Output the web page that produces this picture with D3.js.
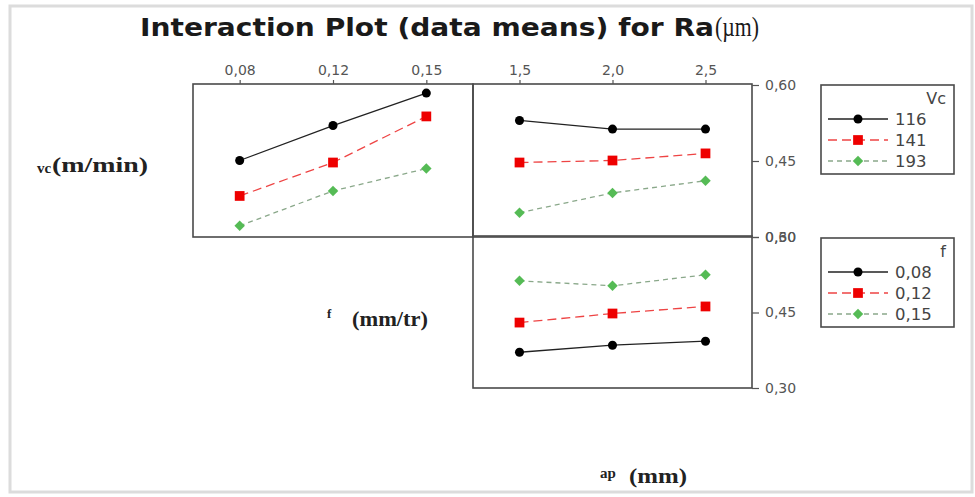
<!DOCTYPE html>
<html>
<head>
<meta charset="utf-8">
<script src="https://cdn.jsdelivr.net/npm/d3@7"></script>
<style>
  html, body { margin: 0; padding: 0; background: #fff; }
  svg { display: block; }
  .tick text { font-family: "DejaVu Sans", Verdana, sans-serif; font-size: 14px; fill: #555; }
  .tick line { stroke: #555; stroke-width: 1.2; }
  .domain { display: none; }
</style>
</head>
<body>
<svg id="chart" width="975" height="497"></svg>
<script>
// Factor levels
const fLevels  = ["0,08", "0,12", "0,15"];
const apLevels = ["1,5", "2,0", "2,5"];
const vcLevels = ["116", "141", "193"];
const yTicks   = [0.30, 0.45, 0.60];

// Mean Ra (µm) for each Vc level across f
const raVcByF = [
  [0.451, 0.520, 0.584],   // Vc 116
  [0.381, 0.447, 0.538],   // Vc 141
  [0.322, 0.391, 0.435]    // Vc 193
];
// Mean Ra for each Vc level across ap
const raVcByAp = [
  [0.530, 0.513, 0.513],
  [0.447, 0.451, 0.465],
  [0.348, 0.387, 0.411]
];
// Mean Ra for each f level across ap
const raFByAp = [
  [0.371, 0.385, 0.393],   // f 0,08
  [0.430, 0.448, 0.462],   // f 0,12
  [0.513, 0.503, 0.525]    // f 0,15
];

// square diamond marker (rotated square)
const diamond = {
  draw(ctx, size) {
    const r = Math.sqrt(size / 2);
    ctx.moveTo(0, -r); ctx.lineTo(r, 0); ctx.lineTo(0, r); ctx.lineTo(-r, 0); ctx.closePath();
  }
};

const seriesStyle = [
  { color: "#000000", line: "#222",    dash: null,  shape: d3.symbolCircle, size: 64, width: 1.3 },
  { color: "#ee0000", line: "#e44",    dash: "9,5", shape: d3.symbolSquare, size: 95, width: 1.3 },
  { color: "#55bb55", line: "#8aa88a", dash: "5,4", shape: diamond,         size: 55, width: 1.3 }
];

const svg = d3.select("#chart");
const locale = d3.formatLocale({ decimal: ",", thousands: " ", grouping: [3], currency: ["", ""] });
const fmt = locale.format(".2f");

// image frame
svg.append("rect").attr("x", 10).attr("y", 6).attr("width", 962).attr("height", 486)
  .attr("fill", "none").attr("stroke", "#dcdcdc").attr("stroke-width", 3);

// Title
svg.append("text").attr("x", 140).attr("y", 36)
  .attr("font-family", "'DejaVu Sans', Verdana, sans-serif").attr("font-weight", "bold")
  .attr("font-size", 25).attr("fill", "#1a1a1a")
  .attr("textLength", 574).attr("lengthAdjust", "spacingAndGlyphs")
  .text("Interaction Plot (data means) for Ra");
svg.append("text").attr("x", 715).attr("y", 36)
  .attr("font-family", "'Liberation Serif', 'Times New Roman', serif")
  .attr("font-size", 28).attr("fill", "#1a1a1a")
  .attr("textLength", 44).attr("lengthAdjust", "spacingAndGlyphs")
  .text("(µm)");

// Panel geometry
const colX = [[193, 473], [473, 752]];
const rowY = [[85, 237], [237, 388]];

const xF  = d3.scalePoint().domain(fLevels).range(colX[0]).padding(0.5);
const xAp = d3.scalePoint().domain(apLevels).range(colX[1]).padding(0.5);
const yTop = d3.scaleLinear().domain([0.30, 0.60]).range([rowY[0][1], rowY[0][0]]);
const yBot = d3.scaleLinear().domain([0.30, 0.60]).range([rowY[1][1], rowY[1][0]]);

function panel(x, y, data) {
  const g = svg.append("g");
  const [x0, x1] = x.range();
  const [y1, y0] = y.range();
  g.append("rect").attr("x", x0).attr("y", y0 - 1).attr("width", x1 - x0).attr("height", y1 - y0 + 1)
    .attr("fill", "none").attr("stroke", "#4a4a4a").attr("stroke-width", 1.6);
  const line = d3.line().x((d, i) => x(x.domain()[i])).y(d => y(d));
  data.forEach((vals, s) => {
    const st = seriesStyle[s];
    g.append("path").datum(vals).attr("d", line).attr("fill", "none")
      .attr("stroke", st.line).attr("stroke-width", st.width)
      .attr("stroke-dasharray", st.dash);
    g.selectAll(null).data(vals).join("path")
      .attr("transform", (d, i) => `translate(${x(x.domain()[i])},${y(d)})`)
      .attr("d", d3.symbol().type(st.shape).size(st.size))
      .attr("fill", st.color);
  });
}

panel(xF, yTop, raVcByF);
panel(xAp, yTop, raVcByAp);
panel(xAp, yBot, raFByAp);

// Top axes (factor levels)
svg.append("g").attr("transform", `translate(0,${rowY[0][0] - 1})`)
  .call(d3.axisTop(xF).tickSize(4).tickPadding(5));
svg.append("g").attr("transform", `translate(0,${rowY[0][0] - 1})`)
  .call(d3.axisTop(xAp).tickSize(4).tickPadding(5));

// Right axes (Ra)
[yTop, yBot].forEach(y => {
  svg.append("g").attr("transform", `translate(${colX[1][1]},0)`)
    .call(d3.axisRight(y).tickValues(yTicks).tickFormat(fmt).tickSize(7).tickPadding(6));
});

// Legends
function legend(top, titleText, labels) {
  const g = svg.append("g").attr("transform", `translate(821,${top})`);
  g.append("rect").attr("width", 133).attr("height", 89).attr("fill", "#fff")
    .attr("stroke", "#4a4a4a").attr("stroke-width", 1.6);
  g.append("text").attr("x", 125).attr("y", 19).attr("text-anchor", "end")
    .attr("font-family", "'DejaVu Sans', Verdana, sans-serif").attr("font-size", 16).attr("fill", "#444")
    .text(titleText);
  labels.forEach((lab, i) => {
    const st = seriesStyle[i];
    const cy = 34 + i * 21;
    g.append("line").attr("x1", 7).attr("x2", 67).attr("y1", cy).attr("y2", cy)
      .attr("stroke", st.line).attr("stroke-width", st.width).attr("stroke-dasharray", st.dash);
    g.append("path").attr("transform", `translate(37,${cy})`)
      .attr("d", d3.symbol().type(st.shape).size(st.size)).attr("fill", st.color);
    g.append("text").attr("x", 74).attr("y", cy + 6)
      .attr("font-family", "'DejaVu Sans', Verdana, sans-serif").attr("font-size", 16.5).attr("fill", "#444")
      .text(lab);
  });
}
legend(85, "Vc", vcLevels);
legend(238, "f", fLevels);

// Factor labels
function factorLabel(xs, ys, small, smallSize, xb, yb, big, len) {
  const font = "'Liberation Serif', 'Times New Roman', serif";
  svg.append("text").attr("x", xs).attr("y", ys).attr("font-family", font).attr("font-weight", "bold")
    .attr("font-size", smallSize).attr("fill", "#222").text(small);
  svg.append("text").attr("x", xb).attr("y", yb).attr("font-family", font).attr("font-weight", "bold")
    .attr("font-size", 21).attr("fill", "#222")
    .attr("textLength", len).attr("lengthAdjust", "spacingAndGlyphs").text(big);
}
factorLabel(37, 173, "vc", 15, 52, 172, "(m/min)", 96);
factorLabel(327, 318, "f", 13, 352, 326, "(mm/tr)", 76);
factorLabel(600, 478, "ap", 15, 629, 483, "(mm)", 58);
</script>
</body>
</html>
